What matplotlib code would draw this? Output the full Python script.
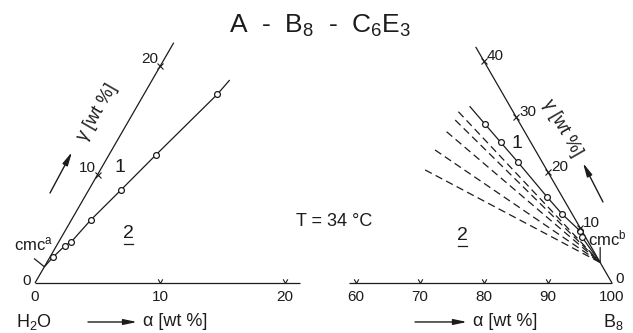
import numpy as np
import matplotlib
matplotlib.use("Agg")
import matplotlib.pyplot as plt
from matplotlib.path import Path

plt.rcParams["font.family"] = ["Liberation Sans", "DejaVu Sans"]
plt.rcParams["mathtext.fontset"] = "custom"
plt.rcParams["mathtext.rm"] = "Liberation Sans"
plt.rcParams["mathtext.it"] = "Liberation Sans"

INK = "#1c1c1c"
H = np.sqrt(3) / 2

# compositions as (wt% B8, wt% C6E3) of the Gibbs triangle
# water corner
left_edge_c = [0, 22.2]
left_axis_b = [0, 21.2]
left_ticks = [10, 20]
cmc_a = 1.5
left_pts_b = [0.25, 0.68, 1.0, 1.55, 2.58, 3.75, 5.87]
left_pts_c = [2.4, 3.45, 3.8, 5.82, 8.59, 11.82, 17.43]
left_end = (6.2, 18.75)

# oil corner
right_edge_c = [0, 42.6]
right_axis_b = [58.9, 100]
right_ticks_b = [60, 70, 80, 90]
right_ticks_c = [10, 20, 30, 40]
cmc_b = 3.7
right_pts_b = [65.9, 69.9, 74.4, 82.0, 85.9, 90.3, 91.1]
right_pts_c = [28.6, 25.4, 21.8, 15.6, 12.5, 9.4, 8.35]
right_start = (61.8, 31.9)
tie_b = [60.55, 60.8, 60.5, 60.35, 60.6]
tie_c = [30.9, 29.4, 27.3, 24.0, 20.4]

TICK_FS = 11
LABEL_FS = 13


def tern(b, c):
    b = np.asarray(b, dtype=float)
    c = np.asarray(c, dtype=float)
    return b + c / 2, c * H


V_TICK = Path([(-0.55, 1), (0, 0), (0.55, 1)], [Path.MOVETO, Path.LINETO, Path.LINETO])
ARROW = dict(arrowstyle="-|>,head_length=0.8,head_width=0.17", lw=1.0,
             color=INK, shrinkA=0, shrinkB=0)


def line(ax, b, c, **kw):
    x, y = tern(b, c)
    ax.plot(x, y, color=INK, lw=0.9, solid_capstyle="butt", **kw)


def underlined(ax, x, y, k, s="2"):
    ax.text(x, y, s, ha="center", va="center", fontsize=14, color=INK)
    ax.plot([x - 4.5 / k, x + 4.5 / k], [y - 11 / k] * 2, color=INK, lw=0.9)


def ticks(ax, x, y, marker, ms):
    ax.plot(x, y, marker=marker, ms=ms, mew=0.8, color=INK, mfc="none", ls="none")


fig = plt.figure(figsize=(6.33, 3.33), dpi=100)

# ---- left part, near H2O
k1 = 12.5
ax1 = fig.add_axes([0, 0, 310 / 633, 1])
ax1.set_xlim(-35 / k1, 275 / k1)
ax1.set_ylim(-50 / k1, 283 / k1)
ax1.axis("off")

line(ax1, [0, 0], left_edge_c)
line(ax1, left_axis_b, [0, 0])
line(ax1, [0] + left_pts_b + [left_end[0]], [cmc_a] + left_pts_c + [left_end[1]])
x, y = tern(left_pts_b, left_pts_c)
ax1.plot(x, y, "o", ms=4.2, mfc="white", mec=INK, mew=0.9, ls="none")

ticks(ax1, *tern(left_ticks, [0, 0]), V_TICK, 6)
ticks(ax1, *tern([0, 0], left_ticks), "x", 4.5)

for v in [0] + left_ticks:
    ax1.text(v, -1.12, str(v), ha="center", va="center", fontsize=TICK_FS, color=INK)
ax1.text(-0.65, 0.15, "0", ha="center", va="center", fontsize=TICK_FS, color=INK)
for v in left_ticks:
    ax1.annotate(str(v), xy=tern(0, v), xytext=(-2, 7), textcoords="offset pixels",
                 ha="right", va="center", fontsize=TICK_FS, color=INK)

ax1.text(-0.12, 3.12, "cmc$^a$", ha="center", va="center", fontsize=12, color=INK)
ax1.annotate("", xy=tern(0, cmc_a), xytext=(-10, 8), textcoords="offset pixels",
             arrowprops=dict(arrowstyle="-", lw=0.9, color=INK, shrinkA=0, shrinkB=0))

ax1.text(4.96, 13.68, "γ [wt %]", rotation=60, ha="center", va="center",
         fontsize=LABEL_FS, color=INK, rotation_mode="anchor")
ax1.annotate("", xy=(2.96, 10.48), xytext=(1.2, 7.2), arrowprops=ARROW)
ax1.text(6.8, 9.28, "1", ha="center", va="center", fontsize=14, color=INK)
underlined(ax1, 7.44, 4.0, k1)

ax1.text(-0.08, -3.12, "H$_2$O", ha="center", va="center", fontsize=LABEL_FS, color=INK)
ax1.annotate("", xy=(8.16, -3.12), xytext=(4.24, -3.12), arrowprops=ARROW)
ax1.text(8.64, -3.12, "α [wt %]", ha="left", va="center", fontsize=LABEL_FS, color=INK)

# ---- right part, near B8
k2 = 6.4
ax2 = fig.add_axes([320 / 633, 0, 313 / 633, 1])
ax2.set_xlim(100 - 292 / k2, 100 + 21 / k2)
ax2.set_ylim(-50 / k2, 283 / k2)
ax2.axis("off")

line(ax2, [100 - c for c in right_edge_c], right_edge_c)
line(ax2, right_axis_b, [0, 0])
line(ax2, [right_start[0]] + right_pts_b + [100 - cmc_b],
     [right_start[1]] + right_pts_c + [cmc_b])
for b, c in zip(tie_b, tie_c):
    line(ax2, [b, 100 - cmc_b], [c, cmc_b], ls=(0, (6.0, 3.5)))
x, y = tern(right_pts_b, right_pts_c)
ax2.plot(x, y, "o", ms=4.2, mfc="white", mec=INK, mew=0.9, ls="none")

ticks(ax2, *tern(right_ticks_b, [0] * 4), V_TICK, 6)
ticks(ax2, *tern([100 - c for c in right_ticks_c], right_ticks_c), "x", 4.5)

for v in right_ticks_b + [100]:
    ax2.text(v, -2.19, str(v), ha="center", va="center", fontsize=TICK_FS, color=INK)
ax2.text(101.2, 0.62, "0", ha="center", va="center", fontsize=TICK_FS, color=INK)
for v in right_ticks_c:
    ax2.annotate(str(v), xy=tern(100 - v, v), xytext=(3, 5), textcoords="offset pixels",
                 ha="left", va="center", fontsize=TICK_FS, color=INK)

ax2.text(99.3, 7.03, "cmc$^b$", ha="center", va="center", fontsize=12, color=INK)
ax2.annotate("", xy=tern(100 - cmc_b, cmc_b), xytext=(0, 15), textcoords="offset pixels",
             arrowprops=dict(arrowstyle="-", lw=0.9, color=INK, shrinkA=0, shrinkB=0))

ax2.text(92.19, 24.2, "γ [wt %]", rotation=-60, ha="center", va="center",
         fontsize=LABEL_FS, color=INK, rotation_mode="anchor")
ax2.annotate("", xy=(95.47, 18.75), xytext=(98.59, 12.66), arrowprops=ARROW)
ax2.text(85.16, 21.875, "1", ha="center", va="center", fontsize=14, color=INK)
underlined(ax2, 76.64, 7.5, k2)

ax2.annotate("", xy=(77.34, -6.09), xytext=(69.22, -6.09), arrowprops=ARROW)
ax2.text(78.28, -6.09, "α [wt %]", ha="left", va="center", fontsize=LABEL_FS, color=INK)
ax2.text(100.16, -6.09, "B$_8$", ha="center", va="center", fontsize=LABEL_FS, color=INK)

fig.text(334 / 633, 1 - 222 / 333, "T = 34 °C", ha="center", va="center",
         fontsize=LABEL_FS, color=INK)
fig.text(0.505, 1 - 26 / 333, "A  -  B$_8$  -  C$_6$E$_3$", ha="center", va="center",
         fontsize=19, color=INK)

fig.savefig("out.png", dpi=100, facecolor="white")
